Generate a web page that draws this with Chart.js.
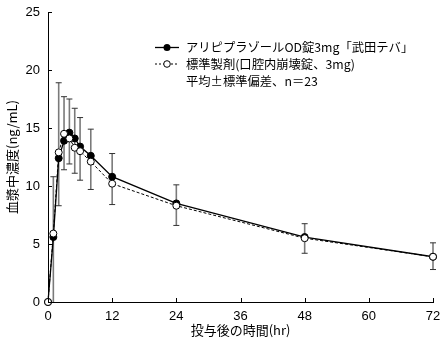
<!DOCTYPE html>
<html>
<head>
<meta charset="utf-8">
<script src="https://cdn.jsdelivr.net/npm/chart.js@4.4.1/dist/chart.umd.min.js"></script>
<style>
  html, body { margin: 0; padding: 0; background: #fff; }
  #wrap { width: 443px; height: 344px; }
</style>
</head>
<body>
<div id="wrap"><canvas id="c" width="443" height="344"></canvas></div>
<script>
// --- data ---
const hours = [0, 1, 2, 3, 4, 5, 6, 8, 12, 24, 48, 72];
const testConc = [0, 5.6, 12.4, 13.9, 14.6, 14.1, 13.4, 12.6, 10.8, 8.5, 5.6, 3.9];
const refConc  = [0, 5.9, 12.9, 14.5, 14.1, 13.3, 13.0, 12.1, 10.2, 8.3, 5.5, 3.9];
const errHigh  = [null, 10.8, 18.9, 17.7, 17.5, 16.7, 15.9, 14.9, 12.8, 10.1, 6.75, 5.1];
const errLow   = [null, 0, 8.3, 11.4, 11.9, 11.1, 10.5, 9.7, 8.4, 6.6, 4.2, 2.8];
const xTicks = [0, 12, 24, 36, 48, 60, 72];
const yTicks = [0, 5, 10, 15, 20, 25];
const legendLabels = ['アリピプラゾールOD錠3mg「武田テバ」', '標準製剤(口腔内崩壊錠、3mg)', '平均±標準偏差、n＝23'];

const FONT = "'Liberation Sans', 'Noto Sans CJK JP', sans-serif";
const JFONT = "'Noto Sans CJK JP', 'Liberation Sans', sans-serif";

// error bars under the markers
const errorBars = {
  id: 'errorBars',
  beforeDatasetsDraw(chart) {
    const { ctx, scales: { x, y } } = chart;
    ctx.save();
    hours.forEach((h, i) => {
      if (errHigh[i] == null) return;
      const px = x.getPixelForValue(h);
      const top = y.getPixelForValue(errHigh[i]);
      const bot = y.getPixelForValue(errLow[i]);
      ctx.strokeStyle = '#7a7a7a';
      ctx.lineWidth = 1.6;
      ctx.beginPath(); ctx.moveTo(px, top); ctx.lineTo(px, bot); ctx.stroke();
      ctx.strokeStyle = '#333';
      ctx.lineWidth = 1;
      ctx.beginPath(); ctx.moveTo(px - 3, top); ctx.lineTo(px + 3, top);
      if (errLow[i] > 0) { ctx.moveTo(px - 3, bot); ctx.lineTo(px + 3, bot); }
      ctx.stroke();
    });
    ctx.restore();
  }
};

// inward tick marks + legend block
const extras = {
  id: 'extras',
  afterDraw(chart) {
    const { ctx, chartArea: a, scales: { x, y } } = chart;
    ctx.save();
    ctx.strokeStyle = '#000';
    ctx.lineWidth = 1;
    ctx.beginPath();
    xTicks.forEach(v => { const p = Math.round(x.getPixelForValue(v)) + 0.5; ctx.moveTo(p, a.bottom); ctx.lineTo(p, a.bottom - 4); });
    yTicks.forEach(v => { const p = Math.round(y.getPixelForValue(v)) + 0.5; ctx.moveTo(a.left, p); ctx.lineTo(a.left + 4, p); });
    ctx.stroke();

    // legend
    const rows = [47.5, 64, 81];
    ctx.font = '12.3px ' + JFONT;
    ctx.fillStyle = '#000';
    ctx.textBaseline = 'middle';
    legendLabels.forEach((t, i) => ctx.fillText(t, 186, rows[i]));

    ctx.lineWidth = 1.3;
    ctx.beginPath(); ctx.moveTo(155, rows[0]); ctx.lineTo(179, rows[0]); ctx.stroke();
    ctx.beginPath(); ctx.arc(167, rows[0], 3.5, 0, Math.PI * 2); ctx.fill();

    ctx.lineWidth = 1;
    ctx.setLineDash([2, 2]);
    ctx.beginPath(); ctx.moveTo(155, rows[1]); ctx.lineTo(179, rows[1]); ctx.stroke();
    ctx.setLineDash([]);
    ctx.fillStyle = '#fff';
    ctx.beginPath(); ctx.arc(167, rows[1], 3.3, 0, Math.PI * 2); ctx.fill(); ctx.stroke();
    ctx.restore();
  }
};

new Chart(document.getElementById('c'), {
  type: 'line',
  data: {
    datasets: [
      {
        label: legendLabels[1],
        data: hours.map((h, i) => ({ x: h, y: refConc[i] })),
        borderColor: '#000', borderWidth: 1, borderDash: [3, 2],
        pointRadius: 3.5, pointBackgroundColor: '#fff', pointBorderColor: '#000', pointBorderWidth: 1,
        tension: 0, clip: false
      },
      {
        label: legendLabels[0],
        data: hours.map((h, i) => ({ x: h, y: testConc[i] })),
        borderColor: '#000', borderWidth: 1.3,
        pointRadius: 3.5, pointBackgroundColor: '#000', pointBorderColor: '#000', pointBorderWidth: 1,
        tension: 0, clip: false
      }
    ]
  },
  options: {
    responsive: false,
    animation: false,
    layout: { padding: { top: 12, right: 10, left: 0, bottom: 0 } },
    plugins: { legend: { display: false }, tooltip: { enabled: false } },
    scales: {
      x: {
        type: 'linear', min: 0, max: 72,
        afterBuildTicks: s => { s.ticks = xTicks.map(v => ({ value: v })); },
        afterFit: s => { s.height = 42; s.paddingLeft = 0; s.paddingRight = 0; },
        grid: { display: false, drawTicks: false },
        border: { color: '#000', width: 1 },
        ticks: { color: '#000', padding: 7, font: { size: 13, family: FONT } },
        title: { display: true, text: '投与後の時間(hr)', color: '#000', padding: { top: 0, bottom: 6 }, font: { size: 13, family: JFONT } }
      },
      y: {
        min: 0, max: 25,
        afterBuildTicks: s => { s.ticks = yTicks.map(v => ({ value: v })); },
        afterFit: s => { s.width = 48; s.paddingTop = 0; s.paddingBottom = 0; },
        grid: { display: false, drawTicks: false },
        border: { color: '#000', width: 1 },
        ticks: { color: '#000', padding: 8, font: { size: 13, family: FONT } },
        title: { display: true, text: '血漿中濃度(ng/mL)', color: '#000', padding: { top: 4, bottom: 0 }, font: { size: 13, family: JFONT } }
      }
    }
  },
  plugins: [errorBars, extras]
});
</script>
</body>
</html>
